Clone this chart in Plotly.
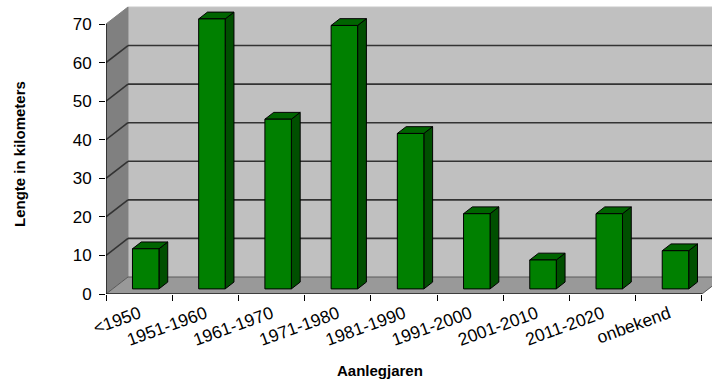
import plotly.graph_objects as go

# Lengths of road built per construction period (km)
categories = ["<1950", "1951-1960", "1961-1970", "1971-1980", "1981-1990",
              "1991-2000", "2001-2010", "2011-2020", "onbekend"]
lengths_km = [10.4, 70, 44, 68.3, 40.3, 19.5, 7.5, 19.5, 9.9]
y_ticks = [0, 10, 20, 30, 40, 50, 60, 70]

# Oblique (pseudo 3D) projection settings, in data units
DEPTH_X = 0.332      # horizontal shift of the back plane (categories)
DEPTH_Y = 4.41       # vertical shift of the back plane (km)
BAR_W = 0.4          # bar width as fraction of a category slot
BAR_FRONT, BAR_BACK = 0.3, 0.7   # bar position within the depth
Y_TOP = 70
n = len(categories)

FONT = "Liberation Sans, Arial, sans-serif"


def shift(x, y, d):
    return x + d * DEPTH_X, y + d * DEPTH_Y


def poly_trace(polys, fill, line_color, line_width=1):
    xs, ys = [], []
    for p in polys:
        for (x, y) in p:
            xs.append(x)
            ys.append(y)
        xs.append(p[0][0])
        ys.append(p[0][1])
        xs.append(None)
        ys.append(None)
    return go.Scatter(x=xs, y=ys, mode="lines", fill="toself", fillcolor=fill,
                      line=dict(color=line_color, width=line_width),
                      hoverinfo="skip", showlegend=False)


def line_trace(segs, color, width):
    xs, ys = [], []
    for (a, b) in segs:
        xs += [a[0], b[0], None]
        ys += [a[1], b[1], None]
    return go.Scatter(x=xs, y=ys, mode="lines", line=dict(color=color, width=width),
                      hoverinfo="skip", showlegend=False)


fig = go.Figure()

# Walls and floor
back_wall = [shift(0, 0, 1), shift(n + 1, 0, 1), shift(n + 1, Y_TOP, 1), shift(0, Y_TOP, 1)]
side_wall = [(0, 0), shift(0, 0, 1), shift(0, Y_TOP, 1), (0, Y_TOP)]
floor = [(0, 0), (n, 0), shift(n, 0, 1), shift(0, 0, 1)]
fig.add_trace(poly_trace([back_wall], "#c0c0c0", "#c8c8c8"))
fig.add_trace(poly_trace([side_wall], "#808080", "#808080"))
fig.add_trace(poly_trace([floor], "#999999", "#5a5a5a"))

# Gridlines on the back wall and the side wall
grid = []
for v in y_ticks[1:-1]:
    grid.append((shift(0, v, 1), shift(n + 1, v, 1)))
    grid.append(((0, v), shift(0, v, 1)))
fig.add_trace(line_trace(grid, "#333333", 1.6))

# Bars: front, top and side faces
fronts, tops, sides = [], [], []
for i, v in enumerate(lengths_km):
    x0 = i + (1 - BAR_W) / 2
    x1 = x0 + BAR_W
    f = [shift(x0, 0, BAR_FRONT), shift(x1, 0, BAR_FRONT),
         shift(x1, v, BAR_FRONT), shift(x0, v, BAR_FRONT)]
    t = [shift(x0, v, BAR_FRONT), shift(x1, v, BAR_FRONT),
         shift(x1, v, BAR_BACK), shift(x0, v, BAR_BACK)]
    s = [shift(x1, 0, BAR_FRONT), shift(x1, 0, BAR_BACK),
         shift(x1, v, BAR_BACK), shift(x1, v, BAR_FRONT)]
    fronts.append(f)
    tops.append(t)
    sides.append(s)
fig.add_trace(poly_trace(sides, "#004f00", "#000000"))
fig.add_trace(poly_trace(tops, "#006400", "#000000"))
fig.add_trace(poly_trace(fronts, "#008000", "#000000"))

# Front axis lines
fig.add_trace(line_trace([((0, 0), (0, Y_TOP)), ((0, 0), (n, 0))], "#000000", 1.2))

fig.update_layout(
    width=712, height=380,
    margin=dict(l=106, r=0, t=0, b=86),
    paper_bgcolor="white", plot_bgcolor="white",
    showlegend=False,
    font=dict(family=FONT, color="black"),
    xaxis=dict(
        range=[0, 606 / 66.22], showgrid=False, zeroline=False, showline=False,
        tickmode="array", tickvals=[i + 0.5 for i in range(n)], ticktext=categories,
        tickangle=-20, ticks="outside", ticklen=2, tickcolor="rgba(0,0,0,0)",
        tickfont=dict(size=17.5, family=FONT, color="black"),
        minor=dict(tickmode="array", tickvals=list(range(n + 1)), ticks="outside",
                   ticklen=6, tickcolor="black", tickwidth=1, showgrid=False),
    ),
    yaxis=dict(
        range=[0, 294 / 3.857], showgrid=False, zeroline=False, showline=False,
        tickmode="array", tickvals=y_ticks, ticks="outside", ticklen=6,
        tickcolor="black", tickwidth=1, ticklabelstandoff=4,
        tickfont=dict(size=17, family=FONT, color="black"),
    ),
    annotations=[
        dict(text="<b>Lengte in kilometers</b>", textangle=-90, xref="paper", yref="paper",
             x=(19 - 106) / 606, y=(294 - 154) / 294, showarrow=False,
             font=dict(size=15, family=FONT, color="black"), xanchor="center", yanchor="middle"),
        dict(text="<b>Aanlegjaren</b>", xref="paper", yref="paper",
             x=(380 - 106) / 606, y=(294 - 370) / 294, showarrow=False,
             font=dict(size=15, family=FONT, color="black"), xanchor="center", yanchor="middle"),
    ],
)

fig.write_html("out.html")
